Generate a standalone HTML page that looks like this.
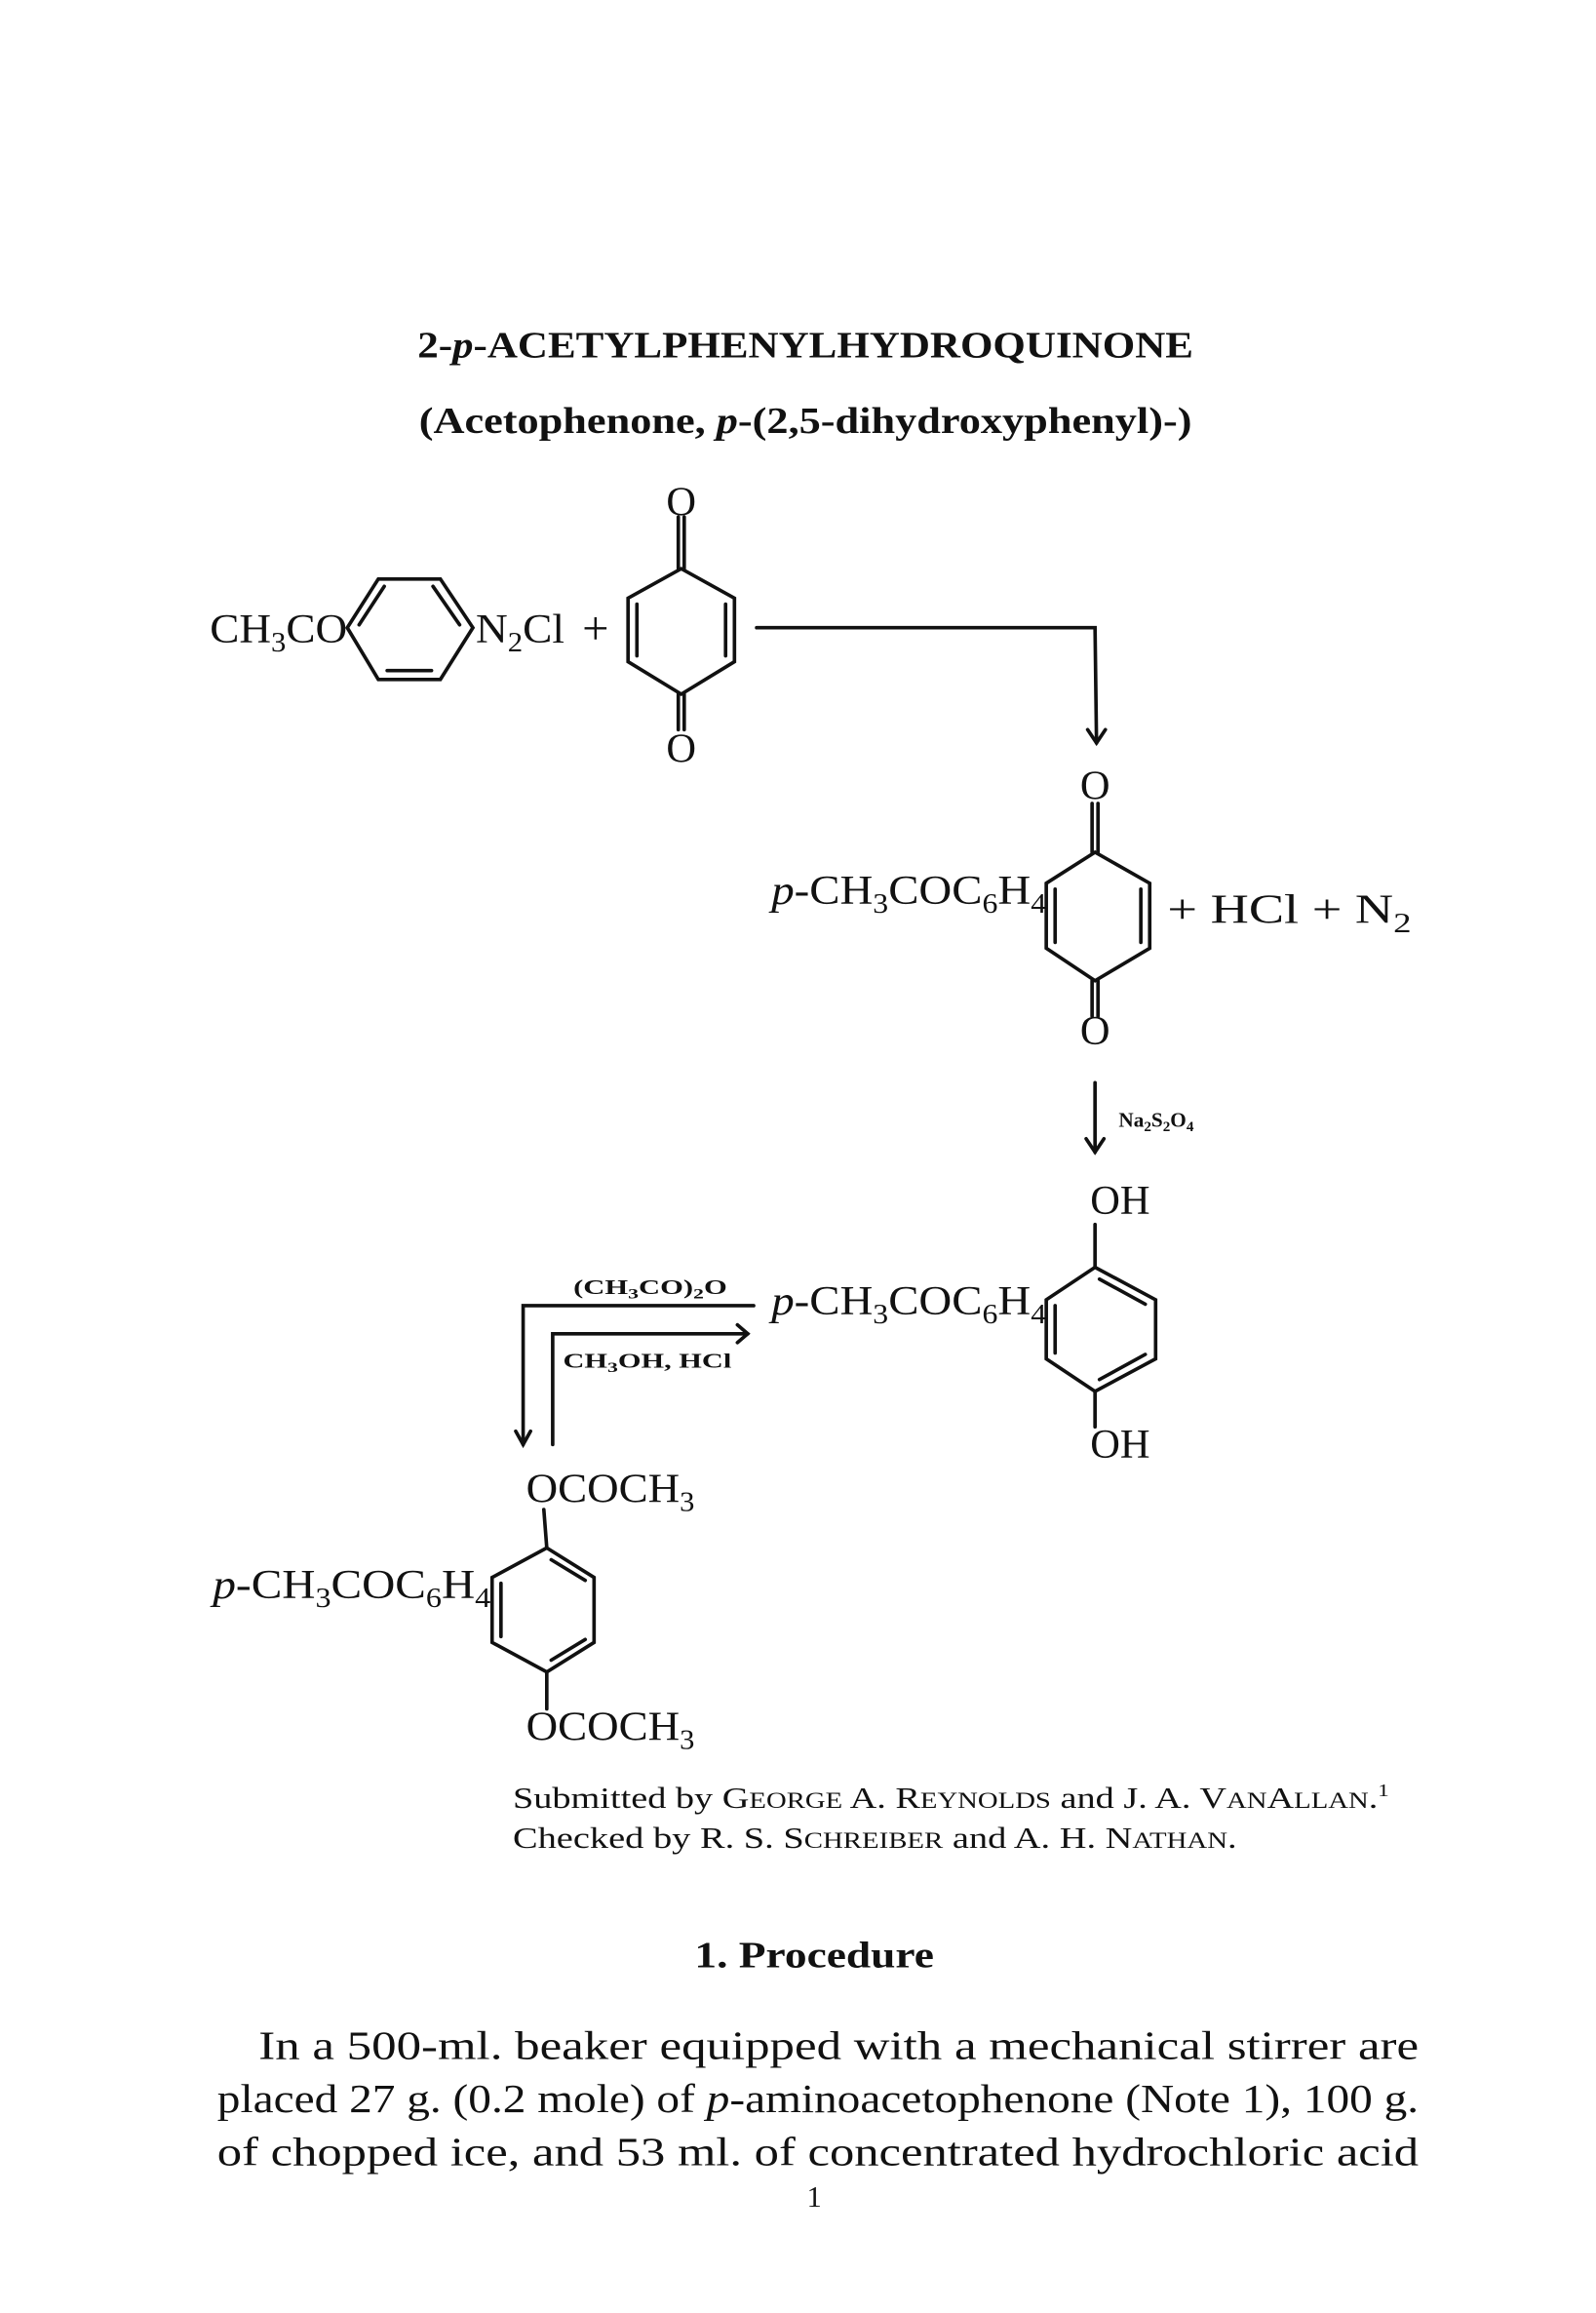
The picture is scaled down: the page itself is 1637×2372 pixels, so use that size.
<!DOCTYPE html>
<html><head><meta charset="utf-8"><style>
html,body{margin:0;padding:0;background:#fff;}
svg{display:block;}
text{font-family:"Liberation Serif",serif;fill:#111;}
</style></head><body>
<svg width="1637" height="2372" viewBox="0 0 1080 1566" preserveAspectRatio="none" xmlns="http://www.w3.org/2000/svg">
<g stroke="#111" stroke-width="2.4" fill="none" stroke-linecap="round">
<polygon points="235,425 256,392 298,392 320,425 298,460 256,460"/>
<line x1="243" y1="423" x2="260" y2="397"/>
<line x1="293" y1="397" x2="311" y2="423"/>
<line x1="262" y1="454" x2="292" y2="454"/>
<polygon points="461,385 497,405 497,448 461,470 425,448 425,405"/>
<line x1="431" y1="409" x2="431" y2="444"/>
<line x1="491" y1="409" x2="491" y2="444"/>
<line x1="459" y1="350" x2="459" y2="385"/><line x1="463" y1="350" x2="463" y2="385"/>
<line x1="459" y1="470" x2="459" y2="494"/><line x1="463" y1="470" x2="463" y2="494"/>
<polyline points="512,425 741,425 742,503"/>
<polyline points="736,494 742,503 748,494"/>
<polygon points="741,577 778,598 778,642 741,664 708,642 708,598"/>
<line x1="714" y1="602" x2="714" y2="638"/>
<line x1="772" y1="602" x2="772" y2="638"/>
<line x1="739" y1="544" x2="739" y2="577"/><line x1="743" y1="544" x2="743" y2="577"/>
<line x1="739" y1="664" x2="739" y2="688"/><line x1="743" y1="664" x2="743" y2="688"/>
<line x1="741" y1="733" x2="741" y2="780"/>
<polyline points="735,771 741,780 747,771"/>
<line x1="741" y1="829" x2="741" y2="858"/>
<polygon points="741,858 782,880 782,920 741,942 708,920 708,880"/>
<line x1="744" y1="866" x2="775" y2="883"/>
<line x1="714" y1="884" x2="714" y2="916"/>
<line x1="744" y1="934" x2="775" y2="917"/>
<line x1="741" y1="942" x2="741" y2="966"/>
<polyline points="510,884 354,884 354,978"/>
<polyline points="349,969 354,978 359,969"/>
<polyline points="374,978 374,903 506,903"/>
<polyline points="499,897 506,903 499,909"/>
<line x1="368" y1="1022" x2="370" y2="1048"/>
<polygon points="370,1048 402,1068 402,1112 370,1132 333,1112 333,1068"/>
<line x1="373" y1="1056" x2="396" y2="1070"/>
<line x1="339" y1="1072" x2="339" y2="1108"/>
<line x1="373" y1="1124" x2="396" y2="1110"/>
<line x1="370" y1="1132" x2="370" y2="1157"/>
</g>

<text x="545" y="242" font-size="25" font-weight="bold" text-anchor="middle" textLength="525" lengthAdjust="spacingAndGlyphs">2-<tspan font-style="italic">p</tspan>-ACETYLPHENYLHYDROQUINONE</text>
<text x="545" y="293" font-size="25" font-weight="bold" text-anchor="middle" textLength="523" lengthAdjust="spacingAndGlyphs">(Acetophenone, <tspan font-style="italic">p</tspan>-(2,5-dihydroxyphenyl)-)</text>

<g font-size="28">
<text x="461" y="349" text-anchor="middle">O</text>
<text x="461" y="516" text-anchor="middle">O</text>
<text x="142" y="435" textLength="93" lengthAdjust="spacingAndGlyphs">CH<tspan font-size="19" dy="6">3</tspan><tspan dy="-6">CO</tspan></text>
<text x="322" y="435" textLength="60" lengthAdjust="spacingAndGlyphs">N<tspan font-size="19" dy="6">2</tspan><tspan dy="-6">Cl</tspan></text>
<text x="403" y="436" text-anchor="middle" font-size="32">+</text>
<text x="741" y="541" text-anchor="middle">O</text>
<text x="741" y="707" text-anchor="middle">O</text>
<text x="522" y="612" textLength="186" lengthAdjust="spacingAndGlyphs"><tspan font-style="italic">p</tspan>-CH<tspan font-size="19" dy="6">3</tspan><tspan dy="-6">COC</tspan><tspan font-size="19" dy="6">6</tspan><tspan dy="-6">H</tspan><tspan font-size="19" dy="6">4</tspan></text>
<text x="790" y="625" textLength="165" lengthAdjust="spacingAndGlyphs">+ HCl + N<tspan font-size="19" dy="6">2</tspan></text>
<text x="758" y="822" text-anchor="middle">OH</text>
<text x="758" y="987" text-anchor="middle">OH</text>
<text x="522" y="890" textLength="186" lengthAdjust="spacingAndGlyphs"><tspan font-style="italic">p</tspan>-CH<tspan font-size="19" dy="6">3</tspan><tspan dy="-6">COC</tspan><tspan font-size="19" dy="6">6</tspan><tspan dy="-6">H</tspan><tspan font-size="19" dy="6">4</tspan></text>
<text x="356" y="1017" textLength="114" lengthAdjust="spacingAndGlyphs">OCOCH<tspan font-size="19" dy="6">3</tspan></text>
<text x="144" y="1082" textLength="188" lengthAdjust="spacingAndGlyphs"><tspan font-style="italic">p</tspan>-CH<tspan font-size="19" dy="6">3</tspan><tspan dy="-6">COC</tspan><tspan font-size="19" dy="6">6</tspan><tspan dy="-6">H</tspan><tspan font-size="19" dy="6">4</tspan></text>
<text x="356" y="1178" textLength="114" lengthAdjust="spacingAndGlyphs">OCOCH<tspan font-size="19" dy="6">3</tspan></text>
</g>
<text x="757" y="763" font-size="14" font-weight="bold">Na<tspan font-size="10" dy="3">2</tspan><tspan dy="-3">S</tspan><tspan font-size="10" dy="3">2</tspan><tspan dy="-3">O</tspan><tspan font-size="10" dy="3">4</tspan></text>
<text x="388" y="876" font-size="14" font-weight="bold" textLength="104" lengthAdjust="spacingAndGlyphs">(CH<tspan font-size="10" dy="3">3</tspan><tspan dy="-3">CO)</tspan><tspan font-size="10" dy="3">2</tspan><tspan dy="-3">O</tspan></text>
<text x="381" y="926" font-size="14" font-weight="bold" textLength="114" lengthAdjust="spacingAndGlyphs">CH<tspan font-size="10" dy="3">3</tspan><tspan dy="-3">OH, HCl</tspan></text>

<text x="347" y="1224" font-size="20" textLength="593" lengthAdjust="spacingAndGlyphs">Submitted by G<tspan font-size="15">EORGE</tspan> A. R<tspan font-size="15">EYNOLDS</tspan> and J. A. V<tspan font-size="15">AN</tspan>A<tspan font-size="15">LLAN</tspan>.<tspan font-size="12" dy="-8">1</tspan></text>
<text x="347" y="1251" font-size="20" textLength="490" lengthAdjust="spacingAndGlyphs">Checked by R. S. S<tspan font-size="15">CHREIBER</tspan> and A. H. N<tspan font-size="15">ATHAN</tspan>.</text>

<text x="551" y="1332" font-size="25" font-weight="bold" text-anchor="middle" textLength="162" lengthAdjust="spacingAndGlyphs">1. Procedure</text>
<g font-size="27">
<text x="175" y="1394" textLength="785" lengthAdjust="spacingAndGlyphs">In a 500-ml. beaker equipped with a mechanical stirrer are</text>
<text x="147" y="1430" textLength="813" lengthAdjust="spacingAndGlyphs">placed 27 g. (0.2 mole) of <tspan font-style="italic">p</tspan>-aminoacetophenone (Note 1), 100 g.</text>
<text x="147" y="1466" textLength="813" lengthAdjust="spacingAndGlyphs">of chopped ice, and 53 ml. of concentrated hydrochloric acid</text>
</g>
<text x="551" y="1494" font-size="20" text-anchor="middle">1</text>
</svg>
</body></html>
